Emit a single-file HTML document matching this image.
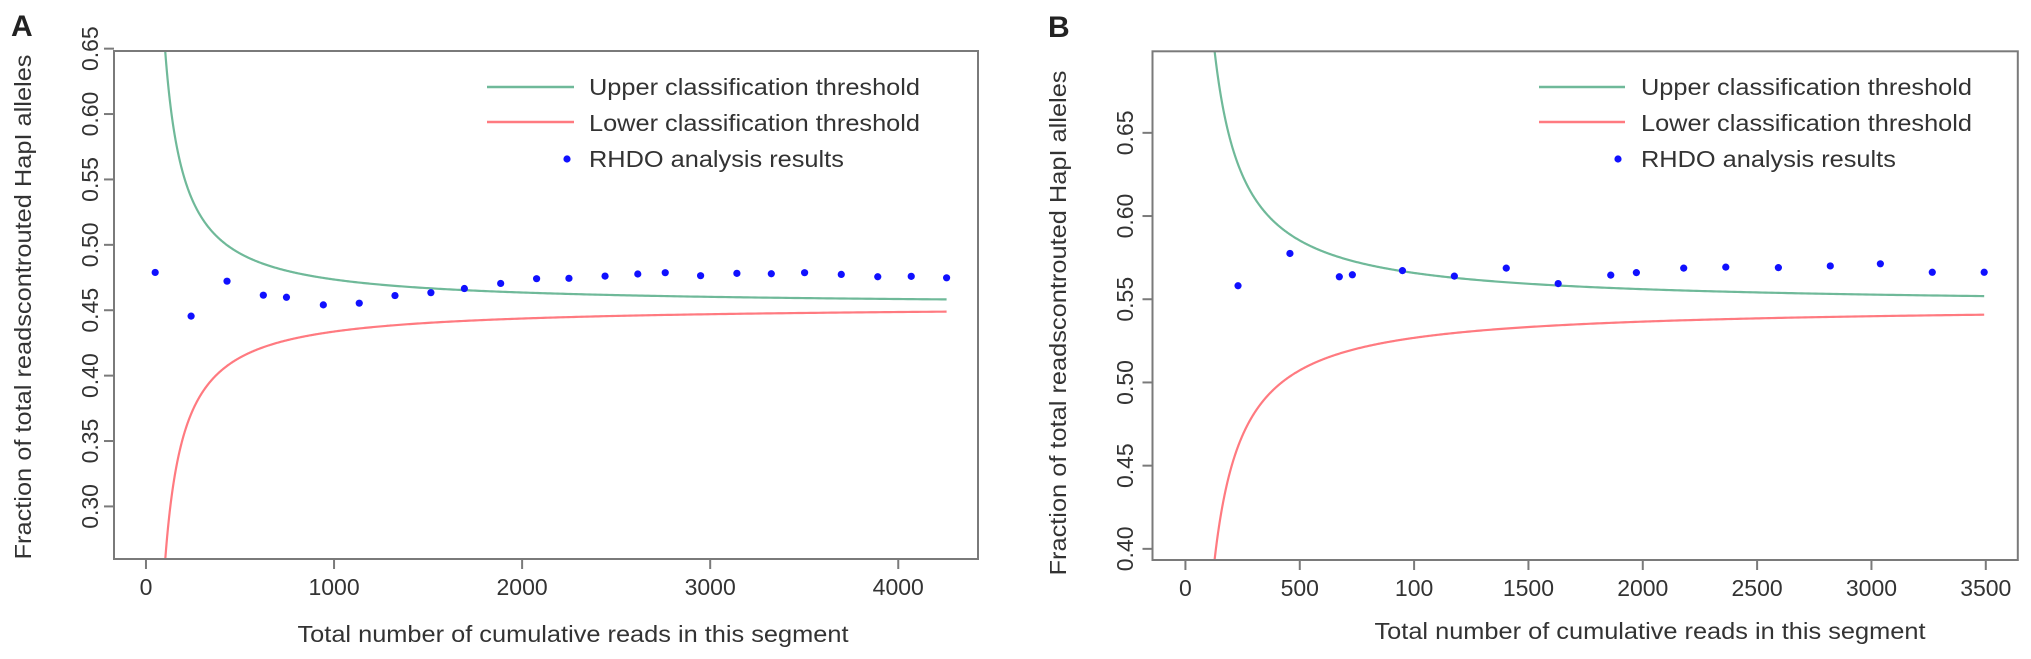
<!DOCTYPE html>
<html><head><meta charset="utf-8"><style>
html,body{margin:0;padding:0;background:#fff;width:2031px;height:659px;overflow:hidden;}
svg{display:block;font-family:"Liberation Sans",Arial,sans-serif;}
</style></head><body>
<svg id="fig" width="2031" height="659" viewBox="0 0 2031 659">
<text x="11" y="36" font-size="30" font-weight="bold" fill="#222">A</text>
<text x="1048" y="37" font-size="30" font-weight="bold" fill="#222">B</text>
</svg>
<script>
// Panel A data
const aX = [49,240,431,624,747,943,1134,1324,1515,1693,1886,2077,2249,2441,2615,2761,2949,3142,3325,3502,3697,3891,4069,4257];
const aY = [0.4789,0.4455,0.4722,0.4615,0.4599,0.4541,0.4554,0.4612,0.4634,0.4666,0.4705,0.4741,0.4744,0.4761,0.4777,0.4787,0.4764,0.4782,0.4779,0.4787,0.4774,0.4756,0.4759,0.4748];
const aXTicks = [0,1000,2000,3000,4000];
const aXTickLabels = ["0","1000","2000","3000","4000"];
const aYTicks = [0.30,0.35,0.40,0.45,0.50,0.55,0.60,0.65];
const aYTickLabels = ["0.30","0.35","0.40","0.45","0.50","0.55","0.60","0.65"];
const aThreshCenter = [0.4536];
const aThreshCoef = [19.9];
// Panel B data
const bX = [230,457,673,730,949,1176,1403,1630,1860,1972,2179,2363,2593,2820,3039,3266,3493];
const bY = [0.5581,0.5775,0.5635,0.5647,0.5672,0.5639,0.5687,0.5594,0.5645,0.5660,0.5687,0.5693,0.5690,0.5700,0.5713,0.5662,0.5662];
const bXTicks = [0,500,1000,1500,2000,2500,3000,3500];
const bXTickLabels = ["0","500","100","1500","2000","2500","3000","3500"];
const bYTicks = [0.40,0.45,0.50,0.55,0.60,0.65];
const bYTickLabels = ["0.40","0.45","0.50","0.55","0.60","0.65"];
const bThreshCenter = [0.5463];
const bThreshCoef = [19.5];

const NS = "http://www.w3.org/2000/svg";
const svg = document.getElementById("fig");
function mk(tag, attrs, parent){
  const e = document.createElementNS(NS, tag);
  for (const k in attrs) e.setAttribute(k, attrs[k]);
  (parent||svg).appendChild(e);
  return e;
}
function curve(sx, sy, c, a, sign, nStart, nEnd){
  const pts = [];
  for (let i = 0; i <= 600; i++) {
    const n = nStart * Math.pow(nEnd / nStart, i / 600);
    pts.push(sx(n).toFixed(2) + "," + sy(c + sign * a / n).toFixed(2));
  }
  return pts.join(" ");
}
function panel(p){
  const g = mk("g", {});
  
  
  const sx = v => p.L + (v - p.x0) / (p.x1 - p.x0) * (p.R - p.L);
  const sy = v => p.B - (v - p.y0) / (p.y1 - p.y0) * (p.B - p.T);
  const nEnd = p.xs[p.xs.length - 1];
  const nUp = p.a[0] / (p.y1 - p.c[0]);
  const nLo = p.a[0] / (p.c[0] - p.y0);
  const ul = mk("polyline", {points: curve(sx, sy, p.c[0], p.a[0], 1, nUp, nEnd), fill: "none", stroke: "#6fb999", "stroke-width": 2.2}, g);
  
  
  const ll = mk("polyline", {points: curve(sx, sy, p.c[0], p.a[0], -1, nLo, nEnd), fill: "none", stroke: "#ff7a80", "stroke-width": 2.2}, g);
  
  
  p.xs.forEach((x, i) => {
    const c = mk("circle", {cx: sx(x), cy: sy(p.ys[i]), r: 3.6, fill: "#1010ff"}, g);
    
    
  });
  const bx = mk("rect", {x: p.L, y: p.T, width: p.R - p.L, height: p.B - p.T, fill: "none", stroke: "#7a7a7a", "stroke-width": 2}, g);
  
  
  p.xt.forEach((t, i) => {
    const X = sx(t);
    mk("line", {x1: X, x2: X, y1: p.B, y2: p.B + 10, stroke: "#7a7a7a", "stroke-width": 2}, g);
    const tx = mk("text", {x: X, y: p.B + 36, "font-size": 23, fill: "#333", "text-anchor": "middle"}, g);
    tx.textContent = p.xl[i];
    
    
  });
  p.yt.forEach((t, i) => {
    const Y = sy(t);
    mk("line", {x1: p.L - 10, x2: p.L, y1: Y, y2: Y, stroke: "#7a7a7a", "stroke-width": 2}, g);
    const tx = mk("text", {x: p.ylx, y: Y, "font-size": 23, fill: "#333", "text-anchor": "middle", transform: "rotate(-90 " + p.ylx + " " + Y + ")"}, g);
    tx.textContent = p.yl[i];
    
    
  });
  const xt = mk("text", {x: p.xtx, y: p.xty, "font-size": 23, fill: "#333", "text-anchor": "middle", textLength: 551, lengthAdjust: "spacingAndGlyphs"}, g);
  xt.textContent = "Total number of cumulative reads in this segment";
  
  
  const yt = mk("text", {x: p.ytx, y: p.yty, "font-size": 23, fill: "#333", "text-anchor": "middle", textLength: 505, lengthAdjust: "spacingAndGlyphs", transform: "rotate(-90 " + p.ytx + " " + p.yty + ")"}, g);
  yt.textContent = "Fraction of total readscontrouted HapI alleles";
  
  
  const lg = mk("g", {}, g);
  
  
  mk("line", {x1: p.lgx1, x2: p.lgx2, y1: 87, y2: 87, stroke: "#6fb999", "stroke-width": 2.5}, lg);
  mk("line", {x1: p.lgx1, x2: p.lgx2, y1: 122, y2: 122, stroke: "#ff7a80", "stroke-width": 2.5}, lg);
  mk("circle", {cx: p.lgdot, cy: 159, r: 3.6, fill: "#1010ff"}, lg);
  const labels = ["Upper classification threshold", "Lower classification threshold", "RHDO analysis results"];
  const lens = [p.lgw, p.lgw, p.lgw * 0.77];
  labels.forEach((s, i) => {
    const t = mk("text", {x: p.lgt, y: 95 + i * 36, "font-size": 23, fill: "#333", textLength: lens[i], lengthAdjust: "spacingAndGlyphs"}, lg);
    t.textContent = s;
    
    
  });
}
panel({id: "panel-a", L: 114, R: 978, T: 51, B: 559, x0: -170, x1: 4424, y0: 0.2598, y1: 0.6482,
  xs: aX, ys: aY, xt: aXTicks, xl: aXTickLabels, yt: aYTicks, yl: aYTickLabels, c: aThreshCenter, a: aThreshCoef,
  ylx: 98, xtx: 573, xty: 642, ytx: 31, yty: 307, lgx1: 487, lgx2: 574, lgdot: 567, lgt: 589, lgw: 331});
panel({id: "panel-b", L: 1152.5, R: 2017.8, T: 51.3, B: 560, x0: -144, x1: 3640, y0: 0.3933, y1: 0.699,
  xs: bX, ys: bY, xt: bXTicks, xl: bXTickLabels, yt: bYTicks, yl: bYTickLabels, c: bThreshCenter, a: bThreshCoef,
  ylx: 1133, xtx: 1650, xty: 639, ytx: 1066, yty: 323, lgx1: 1539, lgx2: 1625, lgdot: 1618, lgt: 1641, lgw: 331});
</script>
</body></html>
